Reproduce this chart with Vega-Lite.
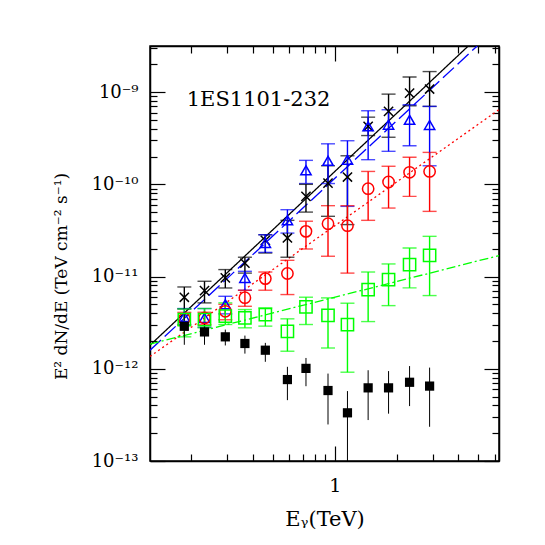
{
  "$schema": "https://vega.github.io/schema/vega-lite/v6.json",
  "autosize": {"type": "none"},
  "padding": {"left": 150, "top": 46, "right": 46, "bottom": 84},
  "width": 349,
  "height": 415,
  "background": "white",
  "config": {"view": {"stroke": "black", "strokeWidth": 1.5}, "font": "DejaVu Serif"},
  "datasets": {
    "pts": [
      {"s": "A", "E": 0.185, "F": 5.96e-12, "lo": 4.46e-12, "hi": 7.71e-12},
      {"s": "A", "E": 0.232, "F": 7.05e-12, "lo": 5.18e-12, "hi": 8.89e-12},
      {"s": "A", "E": 0.293, "F": 9.66e-12, "lo": 7.52e-12, "hi": 1.19e-11},
      {"s": "A", "E": 0.365, "F": 1.40e-11, "lo": 1.09e-11, "hi": 1.62e-11},
      {"s": "A", "E": 0.459, "F": 2.47e-11, "lo": 1.80e-11, "hi": 2.84e-11},
      {"s": "A", "E": 0.588, "F": 2.62e-11, "lo": 1.62e-11, "hi": 4.07e-11},
      {"s": "A", "E": 0.724, "F": 7.41e-11, "lo": 5.0e-11, "hi": 1.0e-10},
      {"s": "A", "E": 0.927, "F": 1.03e-10, "lo": 4.50e-11, "hi": 1.59e-10},
      {"s": "A", "E": 1.153, "F": 1.20e-10, "lo": 3.66e-11, "hi": 2.04e-10},
      {"s": "A", "E": 1.454, "F": 4.25e-10, "lo": 3.38e-10, "hi": 5.35e-10},
      {"s": "A", "E": 1.828, "F": 6.18e-10, "lo": 3.24e-10, "hi": 9.51e-10},
      {"s": "A", "E": 2.314, "F": 9.75e-10, "lo": 7.11e-10, "hi": 1.46e-9},
      {"s": "A", "E": 2.897, "F": 1.08e-9, "lo": 7.0e-10, "hi": 1.67e-9},
      {"s": "B", "E": 0.185, "F": 3.65e-12, "lo": 3.02e-12, "hi": 4.50e-12},
      {"s": "B", "E": 0.232, "F": 3.56e-12, "lo": 2.82e-12, "hi": 4.50e-12},
      {"s": "B", "E": 0.293, "F": 5.01e-12, "lo": 3.94e-12, "hi": 6.11e-12},
      {"s": "B", "E": 0.365, "F": 9.66e-12, "lo": 7.11e-12, "hi": 1.14e-11},
      {"s": "B", "E": 0.459, "F": 2.31e-11, "lo": 1.83e-11, "hi": 2.84e-11},
      {"s": "B", "E": 0.588, "F": 4.07e-11, "lo": 2.96e-11, "hi": 5.31e-11},
      {"s": "B", "E": 0.724, "F": 1.42e-10, "lo": 1.02e-10, "hi": 1.82e-10},
      {"s": "B", "E": 0.927, "F": 1.80e-10, "lo": 1.02e-10, "hi": 2.75e-10},
      {"s": "B", "E": 1.153, "F": 1.85e-10, "lo": 5.77e-11, "hi": 2.97e-10},
      {"s": "B", "E": 1.454, "F": 4.25e-10, "lo": 1.85e-10, "hi": 6.28e-10},
      {"s": "B", "E": 1.828, "F": 4.43e-10, "lo": 2.28e-10, "hi": 6.44e-10},
      {"s": "B", "E": 2.314, "F": 5.01e-10, "lo": 2.62e-10, "hi": 7.29e-10},
      {"s": "B", "E": 2.897, "F": 4.40e-10, "lo": 1.59e-10, "hi": 7.0e-10},
      {"s": "C", "E": 0.185, "F": 3.48e-12, "lo": 2.96e-12, "hi": 4.09e-12},
      {"s": "C", "E": 0.232, "F": 3.56e-12, "lo": 3.0e-12, "hi": 4.1e-12},
      {"s": "C", "E": 0.293, "F": 4.2e-12, "lo": 3.4e-12, "hi": 5.0e-12},
      {"s": "C", "E": 0.365, "F": 5.9e-12, "lo": 4.76e-12, "hi": 7.1e-12},
      {"s": "C", "E": 0.459, "F": 9.5e-12, "lo": 7.11e-12, "hi": 1.12e-11},
      {"s": "C", "E": 0.588, "F": 1.08e-11, "lo": 6.38e-12, "hi": 1.50e-11},
      {"s": "C", "E": 0.724, "F": 3.09e-11, "lo": 1.99e-11, "hi": 3.98e-11},
      {"s": "C", "E": 0.927, "F": 3.74e-11, "lo": 1.66e-11, "hi": 5.87e-11},
      {"s": "C", "E": 1.153, "F": 3.56e-11, "lo": 1.09e-11, "hi": 5.87e-11},
      {"s": "C", "E": 1.454, "F": 8.97e-11, "lo": 4.07e-11, "hi": 1.38e-10},
      {"s": "C", "E": 1.828, "F": 1.06e-10, "lo": 5.53e-11, "hi": 1.57e-10},
      {"s": "C", "E": 2.314, "F": 1.35e-10, "lo": 7.41e-11, "hi": 1.97e-10},
      {"s": "C", "E": 2.897, "F": 1.38e-10, "lo": 5.09e-11, "hi": 2.22e-10},
      {"s": "D", "E": 0.185, "F": 3.41e-12, "lo": 2.22e-12, "hi": 4.46e-12},
      {"s": "D", "E": 0.232, "F": 3.41e-12, "lo": 2.78e-12, "hi": 4.50e-12},
      {"s": "D", "E": 0.293, "F": 3.72e-12, "lo": 3.02e-12, "hi": 5.18e-12},
      {"s": "D", "E": 0.365, "F": 3.56e-12, "lo": 2.78e-12, "hi": 4.39e-12},
      {"s": "D", "E": 0.459, "F": 3.87e-12, "lo": 2.90e-12, "hi": 4.57e-12},
      {"s": "D", "E": 0.588, "F": 2.55e-12, "lo": 1.55e-12, "hi": 3.48e-12},
      {"s": "D", "E": 0.724, "F": 4.69e-12, "lo": 3.02e-12, "hi": 5.97e-12},
      {"s": "D", "E": 0.927, "F": 3.80e-12, "lo": 1.68e-12, "hi": 5.87e-12},
      {"s": "D", "E": 1.153, "F": 3.02e-12, "lo": 9.18e-13, "hi": 5.14e-12},
      {"s": "D", "E": 1.454, "F": 7.21e-12, "lo": 3.25e-12, "hi": 1.12e-11},
      {"s": "D", "E": 1.828, "F": 9.27e-12, "lo": 4.84e-12, "hi": 1.37e-11},
      {"s": "D", "E": 2.314, "F": 1.35e-11, "lo": 7.53e-12, "hi": 2.04e-11},
      {"s": "D", "E": 2.897, "F": 1.70e-11, "lo": 6.22e-12, "hi": 2.73e-11},
      {"s": "E", "E": 0.185, "F": 2.89e-12, "lo": 1.82e-12, "hi": 4.02e-12},
      {"s": "E", "E": 0.232, "F": 2.51e-12, "lo": 1.82e-12, "hi": 3.16e-12},
      {"s": "E", "E": 0.293, "F": 2.22e-12, "lo": 1.79e-12, "hi": 2.66e-12},
      {"s": "E", "E": 0.365, "F": 1.88e-12, "lo": 1.46e-12, "hi": 2.29e-12},
      {"s": "E", "E": 0.459, "F": 1.59e-12, "lo": 1.19e-12, "hi": 1.91e-12},
      {"s": "E", "E": 0.588, "F": 7.64e-13, "lo": 4.57e-13, "hi": 1.05e-12},
      {"s": "E", "E": 0.724, "F": 1.01e-12, "lo": 6.47e-13, "hi": 1.31e-12},
      {"s": "E", "E": 0.927, "F": 5.81e-13, "lo": 2.49e-13, "hi": 8.87e-13},
      {"s": "E", "E": 1.153, "F": 3.33e-13, "lo": 8e-14, "hi": 5.73e-13},
      {"s": "E", "E": 1.454, "F": 6.21e-13, "lo": 2.78e-13, "hi": 9.64e-13},
      {"s": "E", "E": 1.828, "F": 6.21e-13, "lo": 3.26e-13, "hi": 9.44e-13},
      {"s": "E", "E": 2.314, "F": 7.14e-13, "lo": 3.94e-13, "hi": 1.07e-12},
      {"s": "E", "E": 2.897, "F": 6.49e-13, "lo": 2.35e-13, "hi": 1.03e-12}
    ],
    "fits": [
      {"s": "A", "E": 0.1259, "F": 1.80e-12},
      {"s": "A", "E": 4.47, "F": 3.162e-9},
      {"s": "B", "E": 0.1259, "F": 1.59e-12},
      {"s": "B", "E": 4.94, "F": 3.162e-9},
      {"s": "C", "E": 0.1259, "F": 1.36e-12},
      {"s": "C", "E": 6.31, "F": 6.46e-10},
      {"s": "D", "E": 0.1259, "F": 1.85e-12},
      {"s": "D", "E": 6.31, "F": 1.69e-11}
    ]
  },
  "resolve": {"axis": {"x": "independent", "y": "independent"}},
  "layer": [
    {
      "data": {"name": "fits"},
      "mark": {"type": "line", "clip": true, "strokeWidth": 1.3},
      "encoding": {
        "x": {"field": "E", "type": "quantitative",
          "scale": {"type": "log", "domain": [0.12589, 6.3096], "nice": false},
          "axis": {"orient": "top", "values": [0.2,0.3,0.4,0.5,0.6,0.7,0.8,0.9,1,2,3,4,5,6], "labels": false, "title": null, "grid": false,
            "domainColor": "black", "domainWidth": 1.5, "tickColor": "black", "tickWidth": 1.2,
            "tickSize": {"condition": {"test": "datum.value == 1", "value": -15}, "value": -7}}},
        "y": {"field": "F", "type": "quantitative",
          "scale": {"type": "log", "domain": [1e-13, 3.1623e-9], "nice": false},
          "axis": {"orient": "right", "values": [1e-13,2e-13,3e-13,4e-13,5e-13,6e-13,7e-13,8e-13,9e-13,1e-12,2e-12,3e-12,4e-12,5e-12,6e-12,7e-12,8e-12,9e-12,1e-11,2e-11,3e-11,4e-11,5e-11,6e-11,7e-11,8e-11,9e-11,1e-10,2e-10,3e-10,4e-10,5e-10,6e-10,7e-10,8e-10,9e-10,1e-9,2e-9,3e-9],
            "labels": false, "title": null, "grid": false,
            "domainColor": "black", "domainWidth": 1.5, "tickColor": "black", "tickWidth": 1.2,
            "tickSize": {"condition": {"test": "datum.value == 1e-13 || datum.value == 1e-12 || datum.value == 1e-11 || datum.value == 1e-10 || datum.value == 1e-9", "value": -15}, "value": -7}}},
        "color": {"field": "s", "type": "nominal", "scale": {"domain": ["A","B","C","D","E"], "range": ["#000000","#0000ff","#ff0000","#00ff00","#000000"]}, "legend": null},
        "strokeDash": {"field": "s", "type": "nominal", "scale": {"domain": ["A","B","C","D"], "range": [[1,0],[15,5],[2,3],[9,3,2,3]]}, "legend": null}
      }
    },
    {
      "data": {"name": "pts"},
      "transform": [{"filter": "datum.s != 'E'"}],
      "mark": {"type": "errorbar", "ticks": true, "size": 14, "thickness": 1.4},
      "encoding": {
        "x": {"field": "E", "type": "quantitative", "axis": null},
        "y": {"field": "lo", "type": "quantitative", "axis": null},
        "y2": {"field": "hi"},
        "color": {"field": "s", "type": "nominal", "legend": null}
      }
    },
    {
      "data": {"name": "pts"},
      "transform": [{"filter": "datum.s == 'E'"}],
      "mark": {"type": "rule", "color": "black", "strokeWidth": 1, "clip": true},
      "encoding": {
        "x": {"field": "E", "type": "quantitative", "axis": null},
        "y": {"field": "lo", "type": "quantitative", "axis": null},
        "y2": {"field": "hi"}
      }
    },
    {
      "data": {"name": "pts"},
      "transform": [{"filter": "datum.s != 'E'"}],
      "mark": {"type": "point", "filled": false, "strokeWidth": 1.5, "opacity": 1},
      "encoding": {
        "x": {"field": "E", "type": "quantitative",
          "axis": {"orient": "bottom", "values": [0.2,0.3,0.4,0.5,0.6,0.7,0.8,0.9,1,2,3,4,5,6],
            "labelExpr": "datum.value == 1 ? '1' : ''", "grid": false,
            "domainColor": "black", "domainWidth": 1.5, "tickColor": "black", "tickWidth": 1.2,
            "tickSize": {"condition": {"test": "datum.value == 1", "value": -15}, "value": -7},
            "labelFont": "DejaVu Serif", "labelFontSize": 19, "labelColor": "black", "labelPadding": 30, "labelFlush": false, "labelOverlap": false,
            "title": "Eᵧ(TeV)", "titleFont": "DejaVu Serif", "titleFontSize": 21, "titleFontWeight": "normal", "titleColor": "black",
            "titleBaseline": "middle", "titleY": 58}},
        "y": {"field": "F", "type": "quantitative",
          "axis": {"orient": "left", "values": [1e-13,2e-13,3e-13,4e-13,5e-13,6e-13,7e-13,8e-13,9e-13,1e-12,2e-12,3e-12,4e-12,5e-12,6e-12,7e-12,8e-12,9e-12,1e-11,2e-11,3e-11,4e-11,5e-11,6e-11,7e-11,8e-11,9e-11,1e-10,2e-10,3e-10,4e-10,5e-10,6e-10,7e-10,8e-10,9e-10,1e-9,2e-9,3e-9],
            "labelExpr": "datum.value == 1e-13 ? '10⁻¹³' : datum.value == 1e-12 ? '10⁻¹²' : datum.value == 1e-11 ? '10⁻¹¹' : datum.value == 1e-10 ? '10⁻¹⁰' : datum.value == 1e-9 ? '10⁻⁹' : ''",
            "grid": false, "domainColor": "black", "domainWidth": 1.5, "tickColor": "black", "tickWidth": 1.2,
            "tickSize": {"condition": {"test": "datum.value == 1e-13 || datum.value == 1e-12 || datum.value == 1e-11 || datum.value == 1e-10 || datum.value == 1e-9", "value": -15}, "value": -7},
            "labelFont": "DejaVu Serif", "labelFontSize": 18, "labelColor": "black", "labelPadding": 27, "labelFlush": false, "labelOverlap": false, "labelBaseline": "middle",
            "title": "E² dN/dE (TeV cm⁻² s⁻¹)", "titleFont": "DejaVu Serif", "titleFontSize": 17, "titleFontWeight": "normal", "titleColor": "black",
            "titleAngle": 270, "titleAlign": "center", "titleBaseline": "middle", "titleX": -89, "titleY": 230}},
        "color": {"field": "s", "type": "nominal", "legend": null},
        "shape": {"field": "s", "type": "nominal", "scale": {"domain": ["A","B","C","D"], "range": ["M-1,-1L1,1M-1,1L1,-1", "triangle-up", "circle", "square"]}, "legend": null},
        "size": {"field": "s", "type": "nominal", "scale": {"domain": ["A","B","C","D"], "range": [85, 150, 169, 90]}, "legend": null}
      }
    },
    {
      "data": {"name": "pts"},
      "transform": [{"filter": "datum.s == 'E'"}],
      "mark": {"type": "square", "filled": true, "size": 85, "color": "black", "opacity": 1},
      "encoding": {
        "x": {"field": "E", "type": "quantitative", "axis": null},
        "y": {"field": "F", "type": "quantitative", "axis": null}
      }
    },
    {
      "data": {"values": [{"label": "1ES1101-232"}]},
      "mark": {"type": "text", "font": "DejaVu Serif", "fontSize": 21, "align": "left", "baseline": "alphabetic", "color": "black"},
      "encoding": {
        "x": {"datum": 0.19, "type": "quantitative", "axis": null},
        "y": {"datum": 7.15e-10, "type": "quantitative", "axis": null},
        "text": {"field": "label", "type": "nominal"}
      }
    }
  ]
}
